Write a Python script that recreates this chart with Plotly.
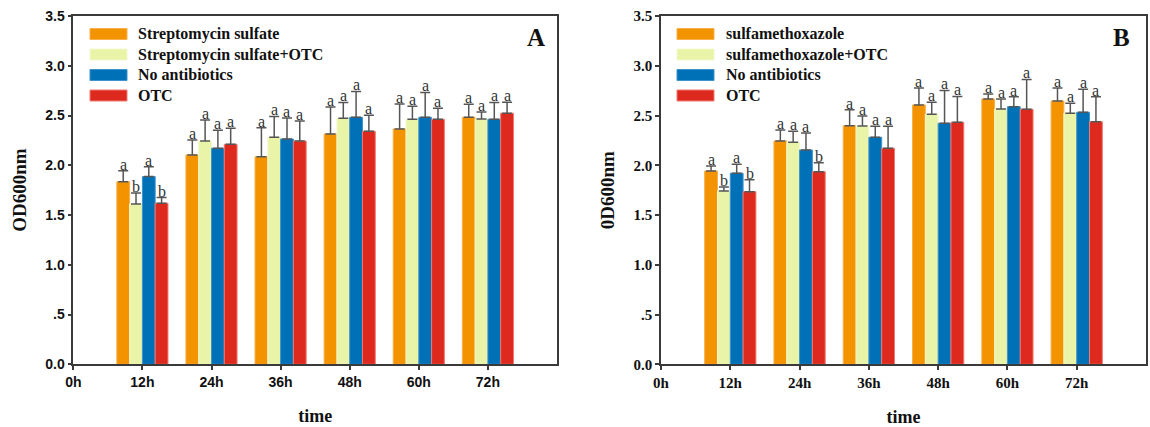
import plotly.graph_objects as go

W, H = 1150, 427

# ---------------- data ----------------
time_labels = ["0h", "12h", "24h", "36h", "48h", "60h", "72h"]
time_pos = [1, 2, 3, 4, 5, 6]          # positions of 12h..72h

# Panel A
names_A = ["Streptomycin sulfate", "Streptomycin sulfate+OTC", "No antibiotics", "OTC"]
strep = [1.835, 2.104, 2.086, 2.315, 2.365, 2.482]
strep_err = [0.11, 0.15, 0.29, 0.27, 0.25, 0.13]
strep_sig = ["a", "a", "a", "a", "a", "a"]
strep_otc = [1.611, 2.244, 2.281, 2.472, 2.462, 2.465]
strep_otc_err = [0.11, 0.21, 0.21, 0.16, 0.13, 0.07]
strep_otc_sig = ["b", "a", "a", "a", "a", "a"]
noab_A = [1.886, 2.171, 2.264, 2.482, 2.482, 2.462]
noab_A_err = [0.10, 0.18, 0.21, 0.26, 0.25, 0.17]
noab_A_sig = ["a", "a", "a", "a", "a", "a"]
otc_A = [1.618, 2.211, 2.244, 2.342, 2.462, 2.523]
otc_A_err = [0.057, 0.16, 0.20, 0.16, 0.11, 0.11]
otc_A_sig = ["b", "a", "a", "a", "a", "a"]

# Panel B
names_B = ["sulfamethoxazole", "sulfamethoxazole+OTC", "No antibiotics", "OTC"]
smx = [1.943, 2.244, 2.398, 2.606, 2.666, 2.646]
smx_err = [0.05, 0.11, 0.16, 0.17, 0.05, 0.13]
smx_sig = ["a", "a", "a", "a", "a", "a"]
smx_otc = [1.742, 2.231, 2.395, 2.513, 2.566, 2.523]
smx_otc_err = [0.04, 0.11, 0.10, 0.12, 0.10, 0.10]
smx_otc_sig = ["b", "a", "a", "a", "a", "a"]
noab_B = [1.920, 2.154, 2.281, 2.422, 2.589, 2.533]
noab_B_err = [0.09, 0.17, 0.11, 0.33, 0.10, 0.23]
noab_B_sig = ["a", "a", "a", "a", "a", "a"]
otc_B = [1.735, 1.936, 2.171, 2.432, 2.563, 2.438]
otc_B_err = [0.12, 0.09, 0.22, 0.26, 0.30, 0.25]
otc_B_sig = ["b", "b", "a", "a", "a", "a"]

y_tickvals = [0, 0.5, 1.0, 1.5, 2.0, 2.5, 3.0, 3.5]
y_ticktext = ["0.0", ".5", "1.0", "1.5", "2.0", "2.5", "3.0", "3.5"]

# ---------------- styles ----------------
colors = ["#F49300", "#EAF4A8", "#0071B6", "#DE2A1E"]
edge = ["#F7B04A", "#F2F8CC", "#3D93CC", "#F07A70"]
SERIF = "Liberation Serif, Times New Roman, serif"
SANS = "Liberation Sans, Arial, sans-serif"
AX_COL = "#3a3a3a"
BAR_W = 0.185
GROUP_L = -0.37

fig = go.Figure()
annotations = []
shapes = []

panels = [
    ("x", "y", names_A,
     [(strep, strep_err, strep_sig), (strep_otc, strep_otc_err, strep_otc_sig),
      (noab_A, noab_A_err, noab_A_sig), (otc_A, otc_A_err, otc_A_sig)]),
    ("x2", "y2", names_B,
     [(smx, smx_err, smx_sig), (smx_otc, smx_otc_err, smx_otc_sig),
      (noab_B, noab_B_err, noab_B_sig), (otc_B, otc_B_err, otc_B_sig)]),
]

for xa, ya, names, series in panels:
    for k, (vals, errs, sigs) in enumerate(series):
        off = GROUP_L + k * BAR_W
        fig.add_trace(go.Bar(
            x=time_pos, y=vals, name=names[k], xaxis=xa, yaxis=ya,
            width=BAR_W, offset=off, showlegend=False,
            marker=dict(color=colors[k], line=dict(color=edge[k], width=1)),
            error_y=dict(type="data", array=errs, arrayminus=[0] * len(errs),
                         symmetric=False, color="#555555", thickness=1.5, width=5),
        ))
        for xi, v, e, s in zip(time_pos, vals, errs, sigs):
            annotations.append(dict(
                x=xi + off + BAR_W / 2, y=v + e, xref=xa, yref=ya,
                text=s, showarrow=False, yanchor="bottom", yshift=-4,
                font=dict(family=SERIF, size=16, color="#333333")))

# domains (paper fractions)
xA = [73.3 / W, 557 / W]
xB = [661 / W, 1146 / W]
yD = [1 - 364.3 / H, 1 - 16 / H]


def xaxis(dom, anchor, font):
    return dict(domain=dom, anchor=anchor, range=[0, 7], tickmode="array",
                tickvals=list(range(7)), ticktext=time_labels, ticks="outside",
                ticklen=4, tickwidth=1.5, tickcolor=AX_COL, showline=True,
                linecolor=AX_COL, linewidth=1.5, mirror=True, showgrid=False,
                zeroline=False, tickfont=font, automargin=False,
                title=dict(text="time", standoff=21,
                           font=dict(family=SERIF, size=18, color="#111", weight="bold")))


def yaxis(anchor, font, title):
    return dict(domain=yD, anchor=anchor, range=[0, 3.5], tickmode="array",
                tickvals=y_tickvals, ticktext=y_ticktext, ticks="outside",
                ticklen=4, tickwidth=1.5, tickcolor=AX_COL, showline=True,
                linecolor=AX_COL, linewidth=1.5, mirror=True, showgrid=False,
                zeroline=False, tickfont=font, automargin=False,
                title=dict(text=title, standoff=14,
                           font=dict(family=SERIF, size=19, color="#111", weight="bold")))


fontA = dict(family=SANS, size=14, color="#111", weight="bold")
fontB = dict(family=SERIF, size=15, color="#111", weight="bold")

# manual legends
legend_rows = [34, 54.5, 75, 95.5]
for (x0, x1, tx, names) in [(90, 127, 136, names_A), (677, 714, 724, names_B)]:
    for k, yr in enumerate(legend_rows):
        shapes.append(dict(type="rect", xref="paper", yref="paper",
                           x0=x0 / W, x1=x1 / W, y0=1 - (yr + 5.5) / H, y1=1 - (yr - 5.5) / H,
                           fillcolor=colors[k], line=dict(color=edge[k], width=1)))
        annotations.append(dict(x=tx / W, y=1 - yr / H, xref="paper", yref="paper",
                                text=names[k], showarrow=False, xanchor="left", yanchor="middle",
                                font=dict(family=SERIF, size=16, color="#111", weight="bold")))

# panel letters
for lx, lt in [(536, "A"), (1121, "B")]:
    annotations.append(dict(x=lx / W, y=1 - 38 / H, xref="paper", yref="paper", text=lt,
                            showarrow=False, xanchor="center", yanchor="middle",
                            font=dict(family=SERIF, size=25, color="#111", weight="bold")))

fig.update_layout(
    width=W, height=H, margin=dict(l=0, r=0, t=0, b=0),
    paper_bgcolor="white", plot_bgcolor="white",
    barmode="overlay",
    xaxis=xaxis(xA, "y", fontA),
    yaxis=yaxis("x", fontA, "OD600nm"),
    xaxis2=xaxis(xB, "y2", fontB),
    yaxis2=yaxis("x2", fontB, "0D600nm"),
    annotations=annotations, shapes=shapes,
)

fig.write_html("out.html")
